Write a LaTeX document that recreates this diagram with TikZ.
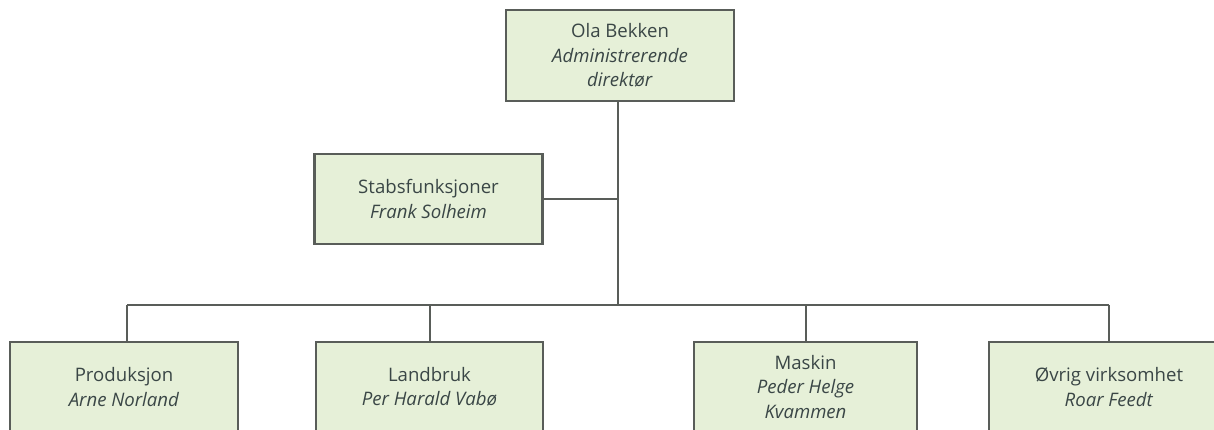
\documentclass[tikz,border=0pt]{standalone}
\usepackage{fontspec}
\setmainfont{Open Sans}
\definecolor{boxfill}{HTML}{E6F0D8}
\definecolor{lineclr}{HTML}{595D59}
\definecolor{txt}{HTML}{3A4646}
\begin{document}
\begin{tikzpicture}[x=1pt,y=-1pt,
  box/.style={draw=lineclr, line width=2.2pt, fill=boxfill, rectangle,
    minimum width=228pt, minimum height=90pt, align=center, text=txt,
    font=\fontsize{18.6}{24.5}\selectfont, inner sep=0pt},
  link/.style={draw=lineclr, line width=2pt}]
\useasboundingbox (0,0) rectangle (1214,430);
\clip (0,0) rectangle (1214,430);
\coordinate (trunk) at (618,305);
\coordinate (dropA) at (127,305);
\coordinate (dropB) at (430,305);
\coordinate (dropC) at (806,305);
\coordinate (dropD) at (1109,305);
\node[box, minimum height=91pt] (ceo) at (620,55.5) {Ola Bekken\\\textit{Administrerende}\\\textit{direktør}};
\node[box] (staff) at (428.5,199) {Stabsfunksjoner\\\textit{Frank Solheim}};
\node[box] (prod) at (124,387) {Produksjon\\\textit{Arne Norland}};
\node[box, minimum width=227pt] (land) at (429.5,387) {Landbruk\\\textit{Per Harald Vabø}};
\node[box, minimum width=223pt] (mask) at (805.5,387) {Maskin\\\textit{Peder Helge}\\\textit{Kvammen}};
\node[box, minimum width=240pt] (ovrig) at (1109,387) {Øvrig virksomhet\\\textit{Roar Feedt}};
\draw[link] (trunk |- ceo.south) -- (trunk);
\draw[link] (staff.east) -- (staff.east -| trunk);
\draw[link] (dropA) -- (dropD);
\draw[link] (dropA) -- (dropA |- prod.north);
\draw[link] (dropB) -- (dropB |- land.north);
\draw[link] (dropC) -- (dropC |- mask.north);
\draw[link] (dropD) -- (dropD |- ovrig.north);
\end{tikzpicture}
\end{document}
